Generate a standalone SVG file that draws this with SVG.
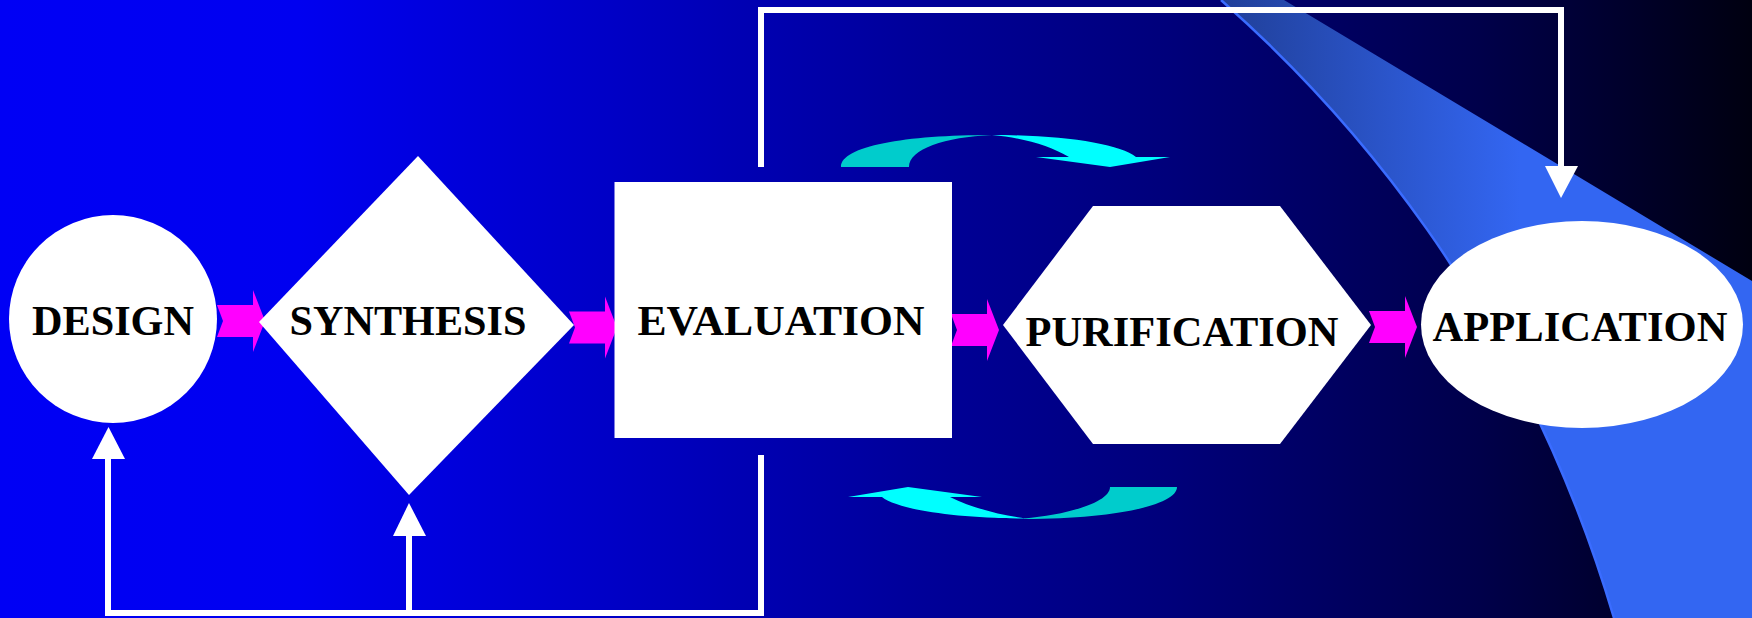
<svg xmlns="http://www.w3.org/2000/svg" width="1752" height="618" viewBox="0 0 1752 618">
  <defs>
    <linearGradient id="bg" x1="0" y1="0" x2="1752" y2="0" gradientUnits="userSpaceOnUse">
      <stop offset="0" stop-color="#0000F5"/>
      <stop offset="0.17" stop-color="#0000F0"/>
      <stop offset="0.34" stop-color="#0000C8"/>
      <stop offset="0.53" stop-color="#000098"/>
      <stop offset="0.67" stop-color="#00007A"/>
      <stop offset="0.845" stop-color="#00004A"/>
      <stop offset="0.91" stop-color="#000032"/>
      <stop offset="1" stop-color="#000010"/>
    </linearGradient>
    <linearGradient id="swoosh" x1="1220" y1="0" x2="1520" y2="0" gradientUnits="userSpaceOnUse">
      <stop offset="0" stop-color="#203F98"/>
      <stop offset="1" stop-color="#3366F2"/>
    </linearGradient>
    <path id="pink" d="M0,-16 H36 V-31 L48,0 L36,31 V16 H0 L6,0 Z"/>
    <style>
      .node { fill: #FFFFFF; }
      .lbl { font-family: "Liberation Serif", "Times New Roman", serif; font-weight: bold; font-size: 43px; fill: #000000; text-anchor: middle; }
      .wire { fill: none; stroke: #FFFFFF; stroke-width: 6; }
      .head { fill: #FFFFFF; }
      .pk { fill: #FF00FF; }
      .cyd { fill: #00CCCC; }
      .cyb { fill: #00FFFF; }
    </style>
  </defs>

  <rect x="0" y="0" width="1752" height="618" fill="url(#bg)"/>
  <path d="M1221,0 L1284,0 L1752,281 L1752,618 L1614,618 C1520,300 1340,105 1221,0 Z" fill="url(#swoosh)"/>
  <path d="M1221,0 C1340,105 1520,300 1614,618" fill="none" stroke="#3A6CFF" stroke-width="2.5"/>

  <g id="connectors">
    <path class="wire" d="M761,167 V10 H1561 V170"/>
    <polygon class="head" points="1545,166 1578,166 1561,198"/>
    <path class="wire" d="M108,457 V613 H761 V455"/>
    <polygon class="head" points="92,459 125,459 108.5,427"/>
    <path class="wire" d="M409,534 V613"/>
    <polygon class="head" points="393,536 426,536 409,503"/>
    <use href="#pink" class="pk" transform="translate(217,321)"/>
    <use href="#pink" class="pk" transform="translate(569,327.5)"/>
    <use href="#pink" class="pk" transform="translate(951,330)"/>
    <use href="#pink" class="pk" transform="translate(1369,327)"/>
    <path class="cyd" d="M841,167 C841,146 905,135 992,135 C945,137 909,149 909,167 Z"/>
    <path class="cyb" d="M992,135 C1065,135 1120,144 1136,157 L1170,157 L1110,167 L1036,157 L1069,157 C1050,146 1025,138 992,135 Z"/>
    <path class="cyb" d="M848,497 L908,487 L982,497 L950,497 C972,508 1000,515 1026,518.5 C960,518.5 898,510 882,497 Z"/>
    <path class="cyd" d="M1024,519 C1115,519 1177,505 1177,487 L1110,487 C1110,503 1065,515 1024,518.5 Z"/>
  </g>

  <g id="design">
    <ellipse class="node" cx="113" cy="319" rx="104" ry="104"/>
    <text class="lbl" x="113" y="335" textLength="162" lengthAdjust="spacingAndGlyphs">DESIGN</text>
  </g>
  <g id="synthesis">
    <polygon class="node" points="418,156 574,325 409,495 259,322"/>
    <text class="lbl" x="408" y="335" textLength="237" lengthAdjust="spacingAndGlyphs">SYNTHESIS</text>
  </g>
  <g id="evaluation">
    <rect class="node" x="614.5" y="182" width="337.5" height="256"/>
    <text class="lbl" x="781" y="335" textLength="287" lengthAdjust="spacingAndGlyphs">EVALUATION</text>
  </g>
  <g id="purification">
    <polygon class="node" points="1003,325 1093,206 1280,206 1371,325 1280,444 1093,444"/>
    <text class="lbl" x="1182" y="346" textLength="313" lengthAdjust="spacingAndGlyphs">PURIFICATION</text>
  </g>
  <g id="application">
    <ellipse class="node" cx="1582" cy="324.5" rx="161" ry="103.5"/>
    <text class="lbl" x="1580" y="341" textLength="295" lengthAdjust="spacingAndGlyphs">APPLICATION</text>
  </g>
</svg>
